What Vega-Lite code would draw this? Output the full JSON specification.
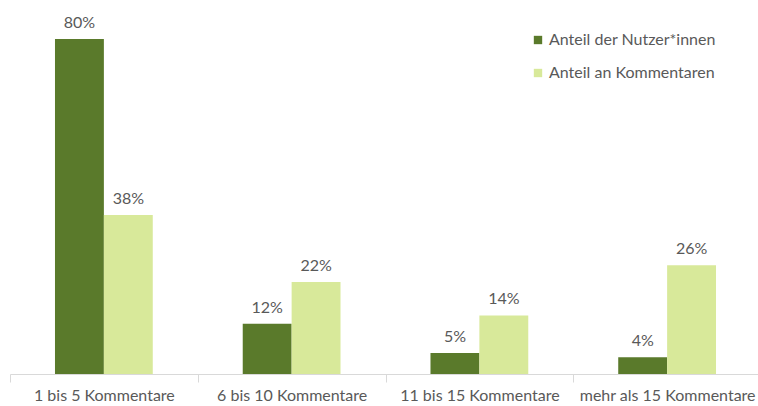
{
  "$schema": "https://vega.github.io/schema/vega-lite/v6.json",
  "width": 751,
  "height": 335,
  "autosize": {"type": "none"},
  "padding": {"left": 10, "top": 39, "right": 0, "bottom": 32},
  "background": "white",
  "config": {
    "view": {"stroke": null},
    "font": "Lato",
    "text": {"font": "Lato"}
  },
  "data": {
    "values": [
      {"kategorie": "1 bis 5 Kommentare", "serie": "Anteil der Nutzer*innen", "wert": 0.80},
      {"kategorie": "1 bis 5 Kommentare", "serie": "Anteil an Kommentaren", "wert": 0.38},
      {"kategorie": "6 bis 10 Kommentare", "serie": "Anteil der Nutzer*innen", "wert": 0.12},
      {"kategorie": "6 bis 10 Kommentare", "serie": "Anteil an Kommentaren", "wert": 0.22},
      {"kategorie": "11 bis 15 Kommentare", "serie": "Anteil der Nutzer*innen", "wert": 0.05},
      {"kategorie": "11 bis 15 Kommentare", "serie": "Anteil an Kommentaren", "wert": 0.14},
      {"kategorie": "mehr als 15 Kommentare", "serie": "Anteil der Nutzer*innen", "wert": 0.04},
      {"kategorie": "mehr als 15 Kommentare", "serie": "Anteil an Kommentaren", "wert": 0.26}
    ]
  },
  "encoding": {
    "x": {
      "field": "kategorie",
      "type": "nominal",
      "sort": null,
      "scale": {"paddingInner": 0, "paddingOuter": 0},
      "axis": {
        "title": null,
        "labelAngle": 0,
        "labelFontSize": 16,
        "labelColor": "#595959",
        "labelFont": "Lato",
        "labelPadding": 5,
        "labelLimit": 300,
        "domainColor": "#d9d9d9",
        "tickColor": "#d9d9d9",
        "tickSize": 8,
        "tickBand": "extent",
        "grid": false
      }
    },
    "xOffset": {
      "field": "serie",
      "type": "nominal",
      "sort": ["Anteil der Nutzer*innen", "Anteil an Kommentaren"],
      "scale": {"paddingInner": 0, "paddingOuter": 0.92}
    },
    "y": {
      "field": "wert",
      "type": "quantitative",
      "scale": {"domain": [0, 0.8], "nice": false},
      "axis": null
    }
  },
  "layer": [
    {
      "mark": {"type": "bar"},
      "encoding": {
        "color": {
          "field": "serie",
          "type": "nominal",
          "sort": ["Anteil der Nutzer*innen", "Anteil an Kommentaren"],
          "scale": {"domain": ["Anteil der Nutzer*innen", "Anteil an Kommentaren"], "range": ["#5a7a2b", "#d8e99a"]},
          "legend": {
            "title": null,
            "orient": "none",
            "legendX": 520,
            "legendY": -7,
            "symbolType": "square",
            "symbolSize": 70,
            "symbolStrokeWidth": 0,
            "labelFontSize": 16,
            "labelColor": "#595959",
            "labelFont": "Lato",
            "labelOffset": 3,
            "labelLimit": 300,
            "rowPadding": 17,
            "padding": 0
          }
        }
      }
    },
    {
      "mark": {"type": "text", "baseline": "bottom", "dy": -8, "fontSize": 16, "color": "#595959"},
      "encoding": {
        "text": {"field": "wert", "type": "quantitative", "format": ".0%"}
      }
    }
  ]
}
